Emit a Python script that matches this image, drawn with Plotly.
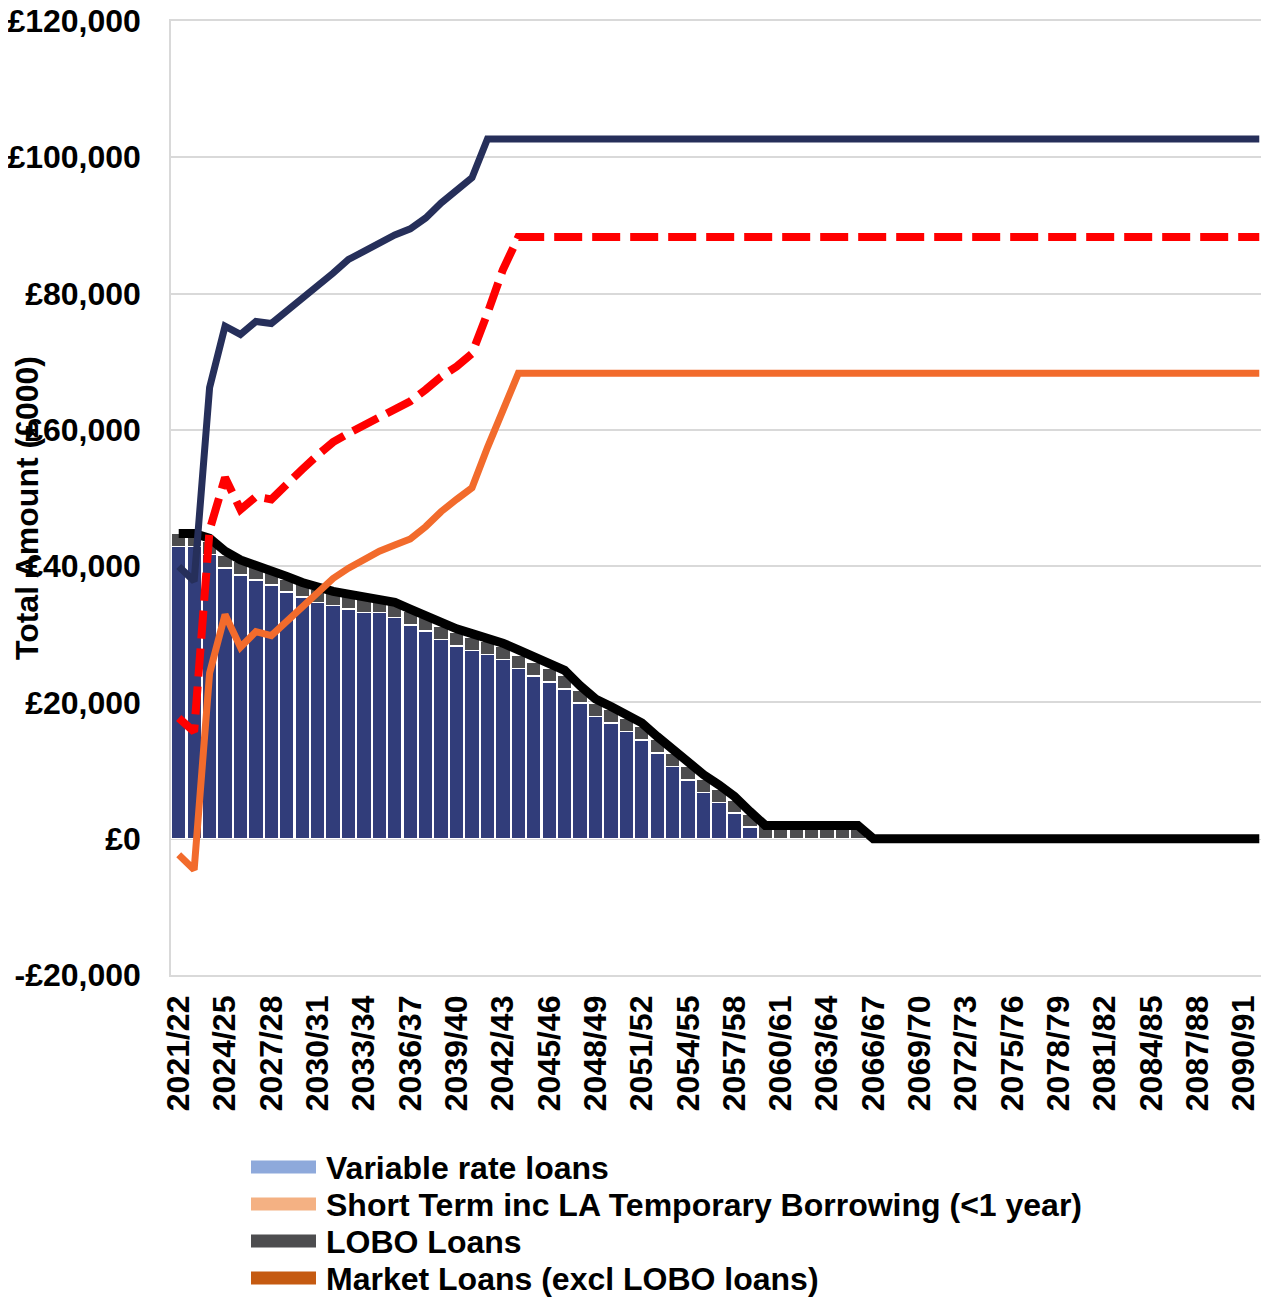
import plotly.graph_objects as go

#################
# Data (£000)
#################

years = [f"{y}/{str(y + 1)[-2:]}" for y in range(2021, 2092)]  # 2021/22 .. 2091/92

market_loans = [
    42900, 42900, 41700, 39700, 38700, 38000, 37200, 36200, 35500, 34700,
    34200, 33700, 33200, 33200, 32500, 31400, 30500, 29200, 28300, 27600,
    27000, 26300, 25000, 23900, 23000, 22000, 19900, 17950, 17000, 15750,
    14500, 12600, 10600, 8650, 6800, 5300, 3750, 1700, 0, 0,
    0, 0, 0, 0, 0, 0, 0, 0, 0, 0,
    0, 0, 0, 0, 0, 0, 0, 0, 0, 0,
    0, 0, 0, 0, 0, 0, 0, 0, 0, 0,
    0,
]

lobo_loans = [
    1950, 1950, 1950, 1950, 1950, 1950, 1950, 1950, 1950, 1950,
    1950, 1950, 1950, 1950, 1950, 1950, 1950, 1950, 1950, 1950,
    1950, 1950, 1950, 1950, 1950, 1950, 1950, 1950, 1950, 1950,
    1950, 1950, 1950, 1950, 1950, 1950, 1950, 1950, 1950, 1950,
    1950, 1950, 1950, 1950, 1950, 0, 0, 0, 0, 0,
    0, 0, 0, 0, 0, 0, 0, 0, 0, 0,
    0, 0, 0, 0, 0, 0, 0, 0, 0, 0,
    0,
]

total_debt = [
    44800, 44800, 44100, 42200, 40900, 40200, 39400, 38500, 37600, 36900,
    36300, 35900, 35500, 35400, 34700, 33700, 32700, 31700, 30800, 30100,
    29500, 28700, 27700, 26750, 25900, 24700, 22450, 20500, 19400, 18300,
    17000, 15000, 13050, 11100, 9400, 7900, 6200, 4000, 1950, 1950,
    1950, 1950, 1950, 1950, 1950, 0, 0, 0, 0, 0,
    0, 0, 0, 0, 0, 0, 0, 0, 0, 0,
    0, 0, 0, 0, 0, 0, 0, 0, 0, 0,
    0,
]

cfr = [
    39950, 37800, 66200, 75200, 74000, 75900, 75600, 77400, 79100, 81000,
    83000, 85000, 86200, 87500, 88600, 89500, 91100, 93300, 95100, 97000,
    102700, 102700, 102700, 102700, 102700, 102700, 102700, 102700, 102700, 102700,
    102700, 102700, 102700, 102700, 102700, 102700, 102700, 102700, 102700, 102700,
    102700, 102700, 102700, 102700, 102700, 102700, 102700, 102700, 102700, 102700,
    102700, 102700, 102700, 102700, 102700, 102700, 102700, 102700, 102700, 102700,
    102700, 102700, 102700, 102700, 102700, 102700, 102700, 102700, 102700, 102700,
    102700,
]

liability_benchmark = [
    17700, 15700, 45300, 53000, 48300, 50200, 49800, 52200, 54200, 56300,
    58200, 59500, 60700, 61900, 63000, 64200, 65900, 67800, 69300, 71200,
    77100, 83500, 88300, 88300, 88300, 88300, 88300, 88300, 88300, 88300,
    88300, 88300, 88300, 88300, 88300, 88300, 88300, 88300, 88300, 88300,
    88300, 88300, 88300, 88300, 88300, 88300, 88300, 88300, 88300, 88300,
    88300, 88300, 88300, 88300, 88300, 88300, 88300, 88300, 88300, 88300,
    88300, 88300, 88300, 88300, 88300, 88300, 88300, 88300, 88300, 88300,
    88300,
]

net_loans_requirement = [
    -2350, -4550, 24300, 32900, 28100, 30400, 29800, 31900, 34100, 36300,
    38200, 39700, 40900, 42200, 43100, 44000, 45800, 48000, 49800, 51500,
    57400, 62900, 68300, 68300, 68300, 68300, 68300, 68300, 68300, 68300,
    68300, 68300, 68300, 68300, 68300, 68300, 68300, 68300, 68300, 68300,
    68300, 68300, 68300, 68300, 68300, 68300, 68300, 68300, 68300, 68300,
    68300, 68300, 68300, 68300, 68300, 68300, 68300, 68300, 68300, 68300,
    68300, 68300, 68300, 68300, 68300, 68300, 68300, 68300, 68300, 68300,
    68300,
]

legend_names = [
    "Variable rate loans",
    "Short Term inc LA Temporary Borrowing (<1 year)",
    "LOBO Loans",
    "Market Loans (excl LOBO loans)",
]
legend_colors = ["#8EA9DB", "#F4B183", "#4D4D4F", "#C55A11"]

y_tick_vals = [-20000, 0, 20000, 40000, 60000, 80000, 100000, 120000]
y_tick_text = ["-£20,000", "£0", "£20,000", "£40,000", "£60,000", "£80,000", "£100,000", "£120,000"]
x_tick_vals = years[::3]

#################
# Layout constants (pixels)
#################

# the page body adds an 8px margin, so the figure is made 8px smaller
# and the margins shifted to keep the plot area where the original has it
PAGE_OFFSET = 8
W, H = 1261, 1292
M_L, M_R, M_T, M_B = 163, 2, 13, 325
plot_w = W - M_L - M_R
plot_h = H - M_T - M_B


def px_x(px):
    # page pixel -> paper x
    return (px - PAGE_OFFSET - M_L) / plot_w


def px_y(py):
    # page pixel -> paper y
    return (H - M_B - (py - PAGE_OFFSET)) / plot_h


#################
# Build figure
#################

fig = go.Figure()

# stacked bars
fig.add_trace(go.Bar(
    x=years, y=market_loans, name="Market Loans (excl LOBO loans)",
    marker=dict(color="#313D7A", line=dict(color="white", width=1.5)),
))
fig.add_trace(go.Bar(
    x=years, y=lobo_loans, name="LOBO Loans",
    marker=dict(color="#4D4D4F", line=dict(color="white", width=1.5)),
))

# lines
fig.add_trace(go.Scatter(
    x=years, y=total_debt, mode="lines", name="Total debt",
    line=dict(color="black", width=9),
))
fig.add_trace(go.Scatter(
    x=years, y=liability_benchmark, mode="lines", name="Liability benchmark",
    line=dict(color="#FF0000", width=8, dash="28px,10px"),
))
fig.add_trace(go.Scatter(
    x=years, y=net_loans_requirement, mode="lines", name="Net loans requirement",
    line=dict(color="#F26B2C", width=7),
))
fig.add_trace(go.Scatter(
    x=years, y=cfr, mode="lines", name="CFR",
    line=dict(color="#262F5A", width=7),
))

# legend drawn by hand: the swatch colours in the original do not match the bars,
# and its rows are tighter than plotly's legend allows
legend_shapes = []
legend_texts = []
for i, (name, colour) in enumerate(zip(legend_names, legend_colors)):
    row_y = 1167 + 37 * i
    legend_shapes.append(dict(
        type="line", xref="paper", yref="paper",
        x0=px_x(251), x1=px_x(316), y0=px_y(row_y), y1=px_y(row_y),
        line=dict(color=colour, width=13),
    ))
    legend_texts.append(dict(
        text=name, xref="paper", yref="paper",
        x=px_x(324), y=px_y(row_y + 1),
        xanchor="left", yanchor="middle", showarrow=False,
        font=dict(size=32),
    ))

fig.update_layout(
    width=W,
    height=H,
    barmode="stack",
    bargap=0.04,
    showlegend=False,
    plot_bgcolor="white",
    paper_bgcolor="white",
    font=dict(family="Liberation Sans, Arial", size=32, color="black", weight="bold"),
    margin=dict(l=M_L, r=M_R, t=M_T, b=M_B),
    xaxis=dict(
        type="category",
        tickmode="array",
        tickvals=x_tick_vals,
        tickangle=-90,
        ticklabelstandoff=6,
        showgrid=False,
        showline=True, linecolor="#D9D9D9", linewidth=1.5, mirror=True,
        automargin=False,
    ),
    yaxis=dict(
        range=[-20000, 120000],
        tickmode="array",
        tickvals=y_tick_vals,
        ticktext=y_tick_text,
        ticklabelstandoff=22,
        ticklabeloverflow="allow",
        showgrid=True, gridcolor="#D9D9D9", gridwidth=1.5,
        zeroline=False,
        showline=True, linecolor="#D9D9D9", linewidth=1.5, mirror=True,
        automargin=False,
    ),
    shapes=legend_shapes,
    annotations=legend_texts + [dict(
        text="Total Amount (£000)",
        xref="paper", yref="paper",
        x=px_x(27), y=px_y(508),
        xanchor="center", yanchor="middle",
        textangle=-90, showarrow=False,
        font=dict(size=32),
    )],
)

fig.write_html("out.html")
